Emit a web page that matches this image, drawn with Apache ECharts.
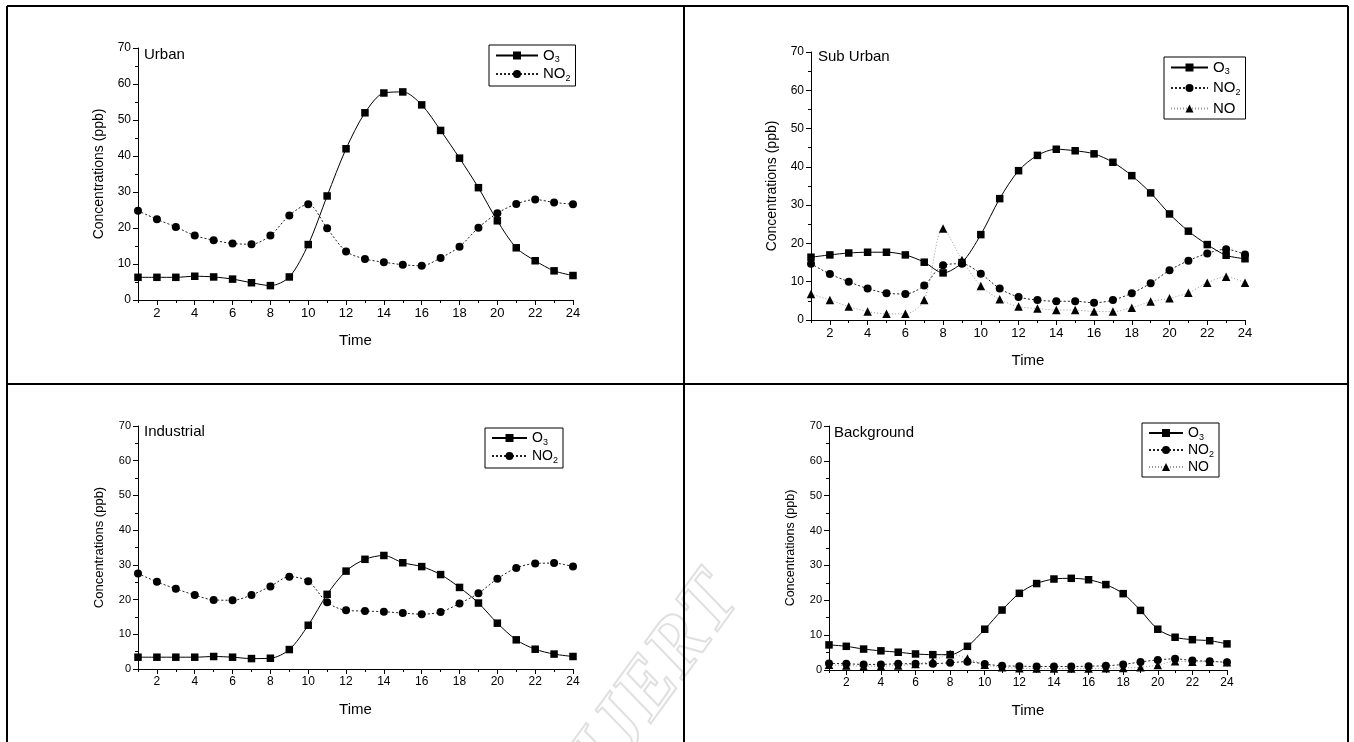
<!DOCTYPE html>
<html>
<head>
<meta charset="utf-8">
<script src="https://cdn.jsdelivr.net/npm/echarts@6/dist/echarts.min.js"></script>
<style>
  html, body { margin: 0; padding: 0; background: #fff; }
  #chart { width: 1354px; height: 742px; }
</style>
</head>
<body>
<div id="chart"></div>
<script>
// hours of the day
const hours = [1,2,3,4,5,6,7,8,9,10,11,12,13,14,15,16,17,18,19,20,21,22,23,24];
const evenHours = [2,4,6,8,10,12,14,16,18,20,22,24];

// Urban
const urbanO3  = [6.3,6.3,6.3,6.6,6.4,5.8,4.8,4.0,6.4,15.4,28.9,42.0,52.0,57.5,57.8,54.2,47.1,39.4,31.2,22.0,14.5,10.9,8.1,6.8];
const urbanNO2 = [24.8,22.4,20.3,17.9,16.6,15.7,15.5,17.9,23.5,26.6,19.9,13.5,11.4,10.5,9.8,9.5,11.7,14.8,20.1,24.1,26.7,27.9,27.1,26.6];

// Sub Urban
const subO3  = [16.4,17.0,17.5,17.7,17.7,17.0,15.1,12.3,15.0,22.3,31.7,39.0,43.0,44.6,44.2,43.4,41.2,37.7,33.2,27.7,23.2,19.7,16.9,16.0];
const subNO2 = [14.7,12.0,10.0,8.2,7.0,6.8,9.0,14.3,14.7,12.1,8.2,6.0,5.2,4.9,4.9,4.5,5.2,7.0,9.6,13.0,15.5,17.4,18.5,17.1];
const subNO  = [6.8,5.2,3.5,2.2,1.6,1.6,5.2,23.9,15.7,8.9,5.4,3.5,3.0,2.6,2.6,2.2,2.2,3.2,4.8,5.7,7.1,9.7,11.3,9.7];

// Industrial
const indO3  = [3.4,3.4,3.4,3.4,3.6,3.4,3.0,3.1,5.6,12.6,21.5,28.2,31.6,32.7,30.6,29.5,27.2,23.5,19.0,13.2,8.4,5.7,4.3,3.6];
const indNO2 = [27.5,25.1,23.1,21.3,19.9,19.8,21.3,23.8,26.6,25.3,19.2,16.9,16.7,16.5,16.1,15.8,16.4,18.9,21.8,26.0,29.1,30.4,30.5,29.5];

// Background
const bgO3  = [7.2,6.8,6.0,5.5,5.1,4.6,4.4,4.4,6.8,11.7,17.2,22.0,24.8,26.1,26.3,25.9,24.5,21.9,17.1,11.7,9.4,8.7,8.4,7.5];
const bgNO2 = [1.9,1.8,1.6,1.6,1.8,1.8,1.8,2.1,2.4,1.7,1.2,1.1,1.0,1.0,1.0,1.1,1.2,1.6,2.3,2.9,3.2,2.7,2.5,2.2];
const bgNO  = [1.5,1.3,1.1,1.1,1.3,1.7,2.6,4.6,3.3,1.5,0.8,0.5,0.4,0.4,0.4,0.4,0.5,0.6,0.8,1.4,2.5,2.4,2.4,2.2];

const font = 'Liberation Sans, Arial, sans-serif';

// panel layout
const panels = [
  { title: 'Urban',      grid: { left: 138, top: 48,  width: 435, height: 252 }, titlePos: [144, 47],  fs: 12, nameFs: 14,
    legend: { left: 489, top: 45, w: 42, gap: 2, fs: 15 },
    series: [['O3', urbanO3], ['NO2', urbanNO2]] },
  { title: 'Sub Urban',  grid: { left: 811, top: 52,  width: 434, height: 268 }, titlePos: [818, 49],  fs: 12, nameFs: 14,
    legend: { left: 1164, top: 57, w: 37, gap: 4, fs: 15 },
    series: [['O3', subO3], ['NO2', subNO2], ['NO', subNO]] },
  { title: 'Industrial', grid: { left: 138, top: 426, width: 435, height: 243 }, titlePos: [144, 424], fs: 11, nameFs: 13,
    legend: { left: 485, top: 428, w: 35, gap: 2, fs: 14 },
    series: [['O3', indO3], ['NO2', indNO2]] },
  { title: 'Background', grid: { left: 829, top: 426, width: 398, height: 244 }, titlePos: [834, 425], fs: 11, nameFs: 12.5,
    legend: { left: 1142, top: 423, w: 34, gap: 1, fs: 14 },
    series: [['O3', bgO3], ['NO2', bgNO2], ['NO', bgNO]] }
];

const styles = {
  O3:  { symbol: 'rect',     symbolSize: 7.5, line: { color: '#000', width: 1, type: 'solid' } },
  NO2: { symbol: 'circle',   symbolSize: 8,   line: { color: '#222', width: 1, type: [2, 2] } },
  NO:  { symbol: 'triangle', symbolSize: 8.5, line: { color: '#999', width: 1, type: [1, 2] } }
};

const chart = echarts.init(document.getElementById('chart'));

const grid = [], xAxis = [], yAxis = [], series = [], legend = [], title = [];

panels.forEach((p, i) => {
  grid.push(p.grid);
  xAxis.push({
    type: 'value', gridIndex: i, min: 1, max: 24, position: 'bottom',
    name: 'Time', nameLocation: 'middle', nameGap: 33,
    nameTextStyle: { fontFamily: font, fontSize: 15, color: '#000' },
    axisLine: { lineStyle: { color: '#000', width: 1 } },
    axisTick: { show: true, length: 5, inside: false, customValues: evenHours, lineStyle: { color: '#000' } },
    axisLabel: { customValues: evenHours, fontFamily: font, fontSize: p.fs + 1, color: '#000', margin: 7 },
    splitLine: { show: false }
  });
  xAxis.push({
    type: 'value', gridIndex: i, min: 1, max: 24, interval: 1, position: 'bottom',
    axisLine: { show: false },
    axisTick: { show: true, length: 3, lineStyle: { color: '#000' } },
    axisLabel: { show: false },
    splitLine: { show: false }
  });
  yAxis.push({
    type: 'value', gridIndex: i, min: 0, max: 70, interval: 10,
    name: 'Concentrations (ppb)', nameLocation: 'middle', nameGap: 32, nameRotate: 90,
    nameTextStyle: { fontFamily: font, fontSize: p.nameFs, color: '#000' },
    axisLine: { show: true, lineStyle: { color: '#000', width: 1 } },
    axisTick: { show: true, length: 5, lineStyle: { color: '#000' } },
    minorTick: { show: true, splitNumber: 2, length: 3, lineStyle: { color: '#000' } },
    axisLabel: { fontFamily: font, fontSize: p.fs, color: '#000', margin: 7 },
    splitLine: { show: false }
  });
  title.push({
    text: p.title, left: p.titlePos[0], top: p.titlePos[1],
    textStyle: { fontFamily: font, fontSize: 15, fontWeight: 'normal', color: '#000' },
    padding: 0
  });
  const lg = p.legend;
  legend.push({
    data: p.series.map(s => s[0]),
    orient: 'vertical', left: lg.left, top: lg.top,
    borderColor: '#000', borderWidth: 1, borderRadius: 0,
    padding: [3, 5, 3, 6], itemGap: lg.gap, itemWidth: lg.w, itemHeight: 10,
    selectedMode: false,
    formatter: n => n.replace(/(\d)$/, '{s|$1}'),
    textStyle: {
      fontFamily: font, fontSize: lg.fs, color: '#000',
      rich: { s: { fontFamily: font, fontSize: 9, padding: [9, 0, 0, 0] } }
    }
  });
  p.series.forEach(([name, vals]) => {
    const st = styles[name];
    series.push({
      name: name, type: 'line',
      xAxisIndex: 2 * i, yAxisIndex: i,
      data: hours.map((h, k) => [h, vals[k]]),
      smooth: 0.3,
      symbol: st.symbol, symbolSize: st.symbolSize,
      showAllSymbol: true,
      itemStyle: { color: '#000', borderWidth: 0 },
      lineStyle: st.line,
      z: name === 'O3' ? 3 : 2,
      animation: false
    });
  });
});

chart.setOption({
  animation: false,
  textStyle: { fontFamily: font },
  title: title,
  grid: grid,
  xAxis: xAxis,
  yAxis: yAxis,
  legend: legend,
  series: series,
  graphic: [
    // table frame
    { type: 'line', shape: { x1: 7, y1: 6, x2: 1348, y2: 6 }, style: { stroke: '#000', lineWidth: 2 } },
    { type: 'line', shape: { x1: 7, y1: 6, x2: 7, y2: 742 }, style: { stroke: '#000', lineWidth: 2 } },
    { type: 'line', shape: { x1: 684, y1: 6, x2: 684, y2: 742 }, style: { stroke: '#000', lineWidth: 2 } },
    { type: 'line', shape: { x1: 1348, y1: 6, x2: 1348, y2: 742 }, style: { stroke: '#000', lineWidth: 2 } },
    { type: 'line', shape: { x1: 7, y1: 384, x2: 1348, y2: 384 }, style: { stroke: '#000', lineWidth: 2 } },
    // faint watermark
    { type: 'text', x: 560, y: 745, rotation: Math.PI * 0.3, z: -1,
      style: { text: 'IJERT', font: 'italic bold 80px Liberation Serif, serif', fill: 'rgba(255,255,255,0)', stroke: '#e0e0e0', lineWidth: 2 } }
  ]
});
</script>
</body>
</html>
